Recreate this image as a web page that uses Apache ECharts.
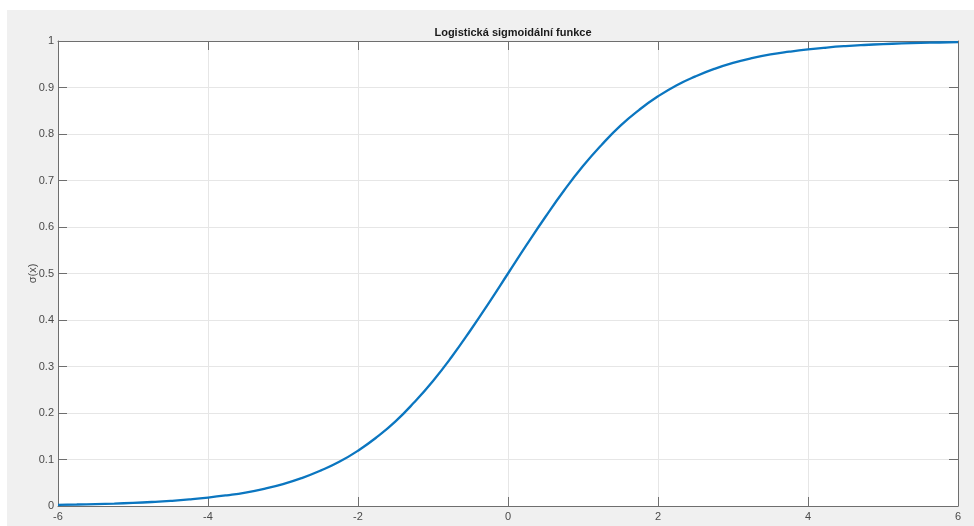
<!DOCTYPE html>
<html>
<head>
<meta charset="utf-8">
<script src="https://cdn.jsdelivr.net/npm/echarts@6/dist/echarts.min.js"></script>
<style>
  html, body { margin: 0; padding: 0; background: #ffffff; }
  #chart { width: 974px; height: 526px; }
</style>
</head>
<body>
<div id="chart"></div>
<script>
// x positions of the sampled curve
const xValues = [
  -6, -5.75, -5.5, -5.25, -5, -4.75, -4.5, -4.25, -4, -3.75, -3.5, -3.25,
  -3, -2.75, -2.5, -2.25, -2, -1.75, -1.5, -1.25, -1, -0.75, -0.5, -0.25,
  0, 0.25, 0.5, 0.75, 1, 1.25, 1.5, 1.75, 2, 2.25, 2.5, 2.75,
  3, 3.25, 3.5, 3.75, 4, 4.25, 4.5, 4.75, 5, 5.25, 5.5, 5.75, 6
];
// sigma(x) values along the curve
const sigmaValues = [
  0.0025, 0.0032, 0.0041, 0.0052, 0.0067, 0.0086, 0.011, 0.0141, 0.018, 0.023, 0.029, 0.037,
  0.047, 0.060, 0.076, 0.095, 0.119, 0.148, 0.182, 0.223, 0.269, 0.321, 0.378, 0.438,
  0.5, 0.562, 0.622, 0.679, 0.731, 0.777, 0.818, 0.852, 0.881, 0.905, 0.924, 0.940,
  0.953, 0.963, 0.971, 0.977, 0.982, 0.9859, 0.989, 0.9914, 0.9933, 0.9948, 0.9959, 0.9968, 0.9975
];
const xTicks = [-6, -4, -2, 0, 2, 4, 6];
const yTicks = [0, 0.1, 0.2, 0.3, 0.4, 0.5, 0.6, 0.7, 0.8, 0.9, 1];

const titleText = 'Logistická sigmoidální funkce';
const yName = 'σ(x)';

const points = xValues.map((x, i) => [x, sigmaValues[i]]);

const axisColor = '#6e6e6e';
const labelColor = '#4a4a4a';
const gridColor = '#e6e6e6';
const font = 'Liberation Sans, Arial, Helvetica, sans-serif';

function xAxisDef(pos, showLabels) {
  return {
    type: 'value', position: pos,
    min: xTicks[0], max: xTicks[xTicks.length - 1], interval: 2,
    axisLine: { show: true, onZero: false, lineStyle: { color: axisColor, width: 1 } },
    axisTick: { show: true, inside: true, length: 9, lineStyle: { color: axisColor } },
    axisLabel: { show: showLabels, color: labelColor, fontSize: 11, fontFamily: font, margin: 5 },
    splitLine: { show: showLabels, lineStyle: { color: gridColor, width: 1 } }
  };
}
function yAxisDef(pos, showLabels) {
  return {
    type: 'value', position: pos,
    min: yTicks[0], max: yTicks[yTicks.length - 1], interval: 0.1,
    name: showLabels ? yName : '',
    nameLocation: 'middle', nameGap: 20, nameRotate: 90, nameMoveOverlap: false,
    nameTextStyle: { color: labelColor, fontSize: 11, fontFamily: font },
    axisLine: { show: true, onZero: false, lineStyle: { color: axisColor, width: 1 } },
    axisTick: { show: true, inside: true, length: 9, lineStyle: { color: axisColor } },
    axisLabel: { show: showLabels, color: labelColor, fontSize: 11, fontFamily: font, margin: 4 },
    splitLine: { show: showLabels, lineStyle: { color: gridColor, width: 1 } }
  };
}

const chart = echarts.init(document.getElementById('chart'), null, { renderer: 'canvas' });
chart.setOption({
  animation: false,
  backgroundColor: '#ffffff',
  graphic: [{
    type: 'rect', z: -10, silent: true,
    shape: { x: 7, y: 10, width: 967, height: 516 },
    style: { fill: '#f0f0f0' }
  }],
  title: {
    text: titleText, left: 508, top: 22, textAlign: 'center',
    textStyle: { fontSize: 11, fontWeight: 'bold', color: '#1a1a1a', fontFamily: font }
  },
  grid: {
    left: 58, top: 41, width: 900, height: 465,
    show: true, backgroundColor: '#ffffff', borderWidth: 0
  },
  xAxis: [xAxisDef('bottom', true), xAxisDef('top', false)],
  yAxis: [yAxisDef('left', true), yAxisDef('right', false)],
  series: [{
    type: 'line', xAxisIndex: 0, yAxisIndex: 0,
    data: points, smooth: true, showSymbol: false,
    lineStyle: { color: '#0b76c0', width: 2.3 },
    z: 3
  }]
});
</script>
</body>
</html>
